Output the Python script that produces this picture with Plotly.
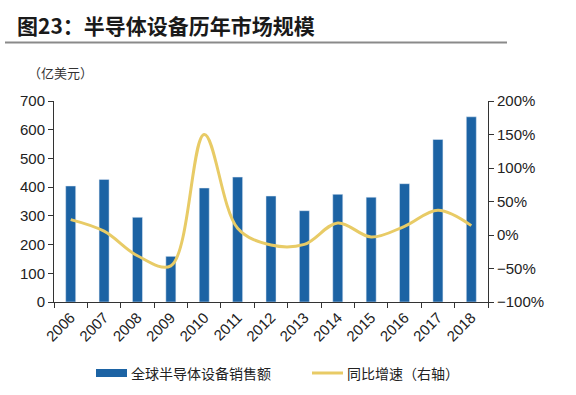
import plotly.graph_objects as go

years = ["2006", "2007", "2008", "2009", "2010", "2011", "2012",
         "2013", "2014", "2015", "2016", "2017", "2018"]
sales = [404, 427, 295, 159, 397, 435, 369, 318, 375, 365, 412, 566, 645]
growth = [0.23, 0.057, -0.31, -0.46, 1.50, 0.10, -0.15, -0.14, 0.18, -0.03, 0.13, 0.37, 0.14]

bar_name = "全球半导体设备销售额"
line_name = "同比增速（右轴）"
title_text = "图23：半导体设备历年市场规模"
unit_text = "（亿美元）"

BAR_COLOR = "#1C63A4"
LINE_COLOR = "#E8CB66"
NUM_FONT = "Liberation Sans, Arial, sans-serif"
CJK_FONT = "Noto Sans CJK SC, sans-serif"

fig = go.Figure()
fig.add_trace(go.Bar(x=years, y=sales, name=bar_name, marker_color=BAR_COLOR,
                     width=0.3, showlegend=False))
fig.add_trace(go.Scatter(x=years, y=growth, name=line_name, yaxis="y2", mode="lines",
                         line=dict(color=LINE_COLOR, width=3, shape="spline", smoothing=1.0),
                         showlegend=False))

L, R, T, B = 54, 88, 101, 93
W, H = 576, 395
pw, ph = W - L - R, H - T - B

def px(x):
    return (x - L) / pw

def py(y):
    return (H - B - y) / ph

axis_common = dict(showline=True, linecolor="#333333", linewidth=1, ticks="outside",
                   ticklen=5, tickcolor="#333333", showgrid=False, zeroline=False,
                   automargin=False,
                   tickfont=dict(family=NUM_FONT, size=15, color="#222222"))

fig.update_layout(
    width=W, height=H,
    margin=dict(l=L, r=R, t=T, b=B, autoexpand=False),
    paper_bgcolor="white", plot_bgcolor="white",
    title=dict(text="<b>" + title_text + "</b>", x=17 / W, xanchor="left",
               y=1 - 27 / H, yanchor="middle",
               font=dict(family=CJK_FONT, size=21, color="#1a1a1a")),
    xaxis=dict(type="category", tickson="boundaries", tickangle=-45,
               showline=True, linecolor="#333333", linewidth=1, ticks="outside",
               ticklen=5, tickcolor="#333333", showgrid=False, automargin=False,
               tickfont=dict(family=NUM_FONT, size=15, color="#222222")),
    yaxis=dict(range=[0, 700], dtick=100, **axis_common),
    yaxis2=dict(range=[-1, 2], dtick=0.5, tickformat=".0%", overlaying="y", side="right",
                **axis_common),
    bargap=0.7,
    showlegend=False,
)

# header rule
fig.add_shape(type="line", xref="paper", yref="paper",
              x0=px(5), x1=px(507), y0=py(42.5), y1=py(42.5),
              line=dict(color="#8a8a8a", width=2))

# unit label
fig.add_annotation(xref="paper", yref="paper", x=px(26), y=py(72), xanchor="left",
                   yanchor="middle", showarrow=False, text=unit_text,
                   font=dict(family=CJK_FONT, size=13, color="#333333"))

# manual legend
ly = py(373)
fig.add_shape(type="rect", xref="paper", yref="paper",
              x0=px(96), x1=px(127), y0=py(377), y1=py(369),
              fillcolor=BAR_COLOR, line=dict(width=0))
fig.add_annotation(xref="paper", yref="paper", x=px(129), y=ly, xanchor="left",
                   yanchor="middle", showarrow=False, text=bar_name,
                   font=dict(family=CJK_FONT, size=14, color="#222222"))
fig.add_shape(type="line", xref="paper", yref="paper",
              x0=px(312), x1=px(343), y0=ly, y1=ly,
              line=dict(color=LINE_COLOR, width=3))
fig.add_annotation(xref="paper", yref="paper", x=px(345), y=ly, xanchor="left",
                   yanchor="middle", showarrow=False, text=line_name,
                   font=dict(family=CJK_FONT, size=14, color="#222222"))

fig.write_html("out.html", config={"displayModeBar": False},
               post_script="document.body.style.margin='0';document.body.style.overflow='hidden';")
